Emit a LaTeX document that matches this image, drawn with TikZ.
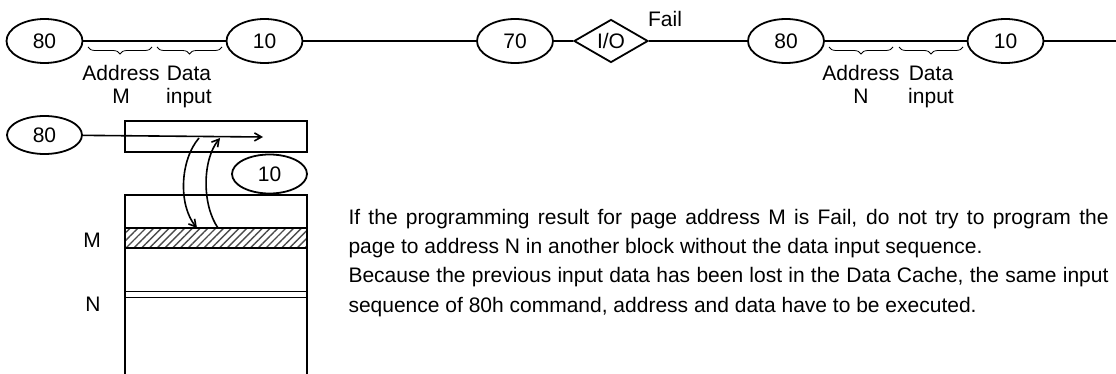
\documentclass[tikz,border=0pt]{standalone}
\usepackage{fontspec}
\setmainfont{Liberation Sans}
\usetikzlibrary{shapes.geometric,arrows.meta,decorations.pathreplacing,patterns.meta}

\begin{document}
\begin{tikzpicture}[x=1pt,y=1pt,
  every node/.style={font=\fontsize{21}{23}\selectfont},
  cmd/.style={draw,ellipse,line width=1.8pt,inner sep=0pt,minimum width=76pt,minimum height=44pt},
  cmdsmall/.style={cmd,minimum width=75pt,minimum height=38pt},
  status/.style={draw,diamond,line width=1.8pt,inner sep=0pt,aspect=1.72,minimum width=74pt,minimum height=43pt},
  bus/.style={line width=1.8pt},
  cyc/.style={decorate,decoration={brace,mirror,amplitude=7pt},line width=0.8pt},
  box/.style={draw,line width=1.3pt,inner sep=0pt,minimum width=182pt},
  flow/.style={line width=1.6pt,-{Straight Barb[length=7pt,width=8pt]}}]
\useasboundingbox (0,0) rectangle (1116,-374);

\node[cmd] (a80) at (44.5,-41) {80};
\node[cmd] (a10) at (264.5,-41) {10};
\node[cmd] (s70) at (515,-41) {70};
\node[status] (io) at (611,-41) {I/O};
\node[cmd] (b80) at (786,-41) {80};
\node[cmd] (b10) at (1005.5,-41) {10};
\coordinate (busend) at (1116,-41);
\draw[bus] (a80) -- (a10) -- (s70) -- (io) -- (b80) -- (b10) -- (busend);
\node[anchor=base] (fail) at (665,-27) {Fail};

\draw[cyc] (88,-47) -- (152,-47);
\draw[cyc] (157,-47) -- (222,-47);
\draw[cyc] (829,-47) -- (893,-47);
\draw[cyc] (899,-47) -- (963,-47);
\node[anchor=base,align=center] (addrM) at (121,-104) {Address\\M};
\node[anchor=base,align=center] (dataM) at (189,-104) {Data\\input};
\node[anchor=base,align=center] (addrN) at (861,-104) {Address\\N};
\node[anchor=base,align=center] (dataN) at (931,-104) {Data\\input};

\node[cmdsmall] (c80) at (44.5,-135) {80};
\node[box,minimum height=31pt] (cache) at (216,-136.5) {};
\coordinate (cachein) at (263,-137);
\draw[flow] (c80) -- (cachein);
\node[cmdsmall,minimum height=39pt] (c10) at (269.5,-174) {10};
\draw[line width=1.3pt] (125,-374) -- (125,-195) -- (307,-195) -- (307,-374);
\node[box,minimum height=20pt,pattern={Lines[angle=45,distance=5.5pt,line width=1.4pt]},pattern color=black!70] (pageM) at (216,-238) {};
\node[box,minimum height=6pt] (pageN) at (216,-294.5) {};
\node (lblM) at (92,-240) {M};
\node (lblN) at (93,-304) {N};

\coordinate (rdtop) at (199,-138);
\coordinate (rdbot) at (197,-228);
\coordinate (wrbot) at (218,-228);
\coordinate (wrtop) at (220,-138);
\draw[flow] (rdtop) .. controls (180,-160) and (178,-205) .. (rdbot);
\draw[flow] (wrbot) .. controls (202,-205) and (202,-160) .. (wrtop);

\node[anchor=base west,align=left,font=\fontsize{21}{29.3}\selectfont] (note) at (345,-312) {\makebox[760pt][s]{If the programming result for page address M is Fail, do not try to program the}\\page to address N in another block without the data input sequence.\\\makebox[760pt][s]{Because the previous input data has been lost in the Data Cache, the same input}\\sequence of 80h command, address and data have to be executed.};
\end{tikzpicture}
\end{document}
